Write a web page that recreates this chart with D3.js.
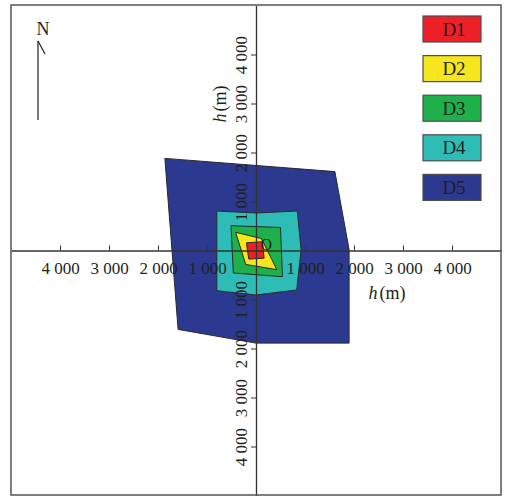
<!DOCTYPE html>
<html><head><meta charset="utf-8">
<script src="https://cdn.jsdelivr.net/npm/d3@7"></script>
<style>body{margin:0;background:#fff} text{font-family:"Liberation Serif","Times New Roman",serif;fill:#231f20}</style>
</head><body><svg id="c" width="507" height="497"></svg>
<script>
// ---- data ----
const tickValues = [-4000,-3000,-2000,-1000,1000,2000,3000,4000];
const tickLabels = ["4 000","3 000","2 000","1 000","1 000","2 000","3 000","4 000"];
const zoneNames = ["D5","D4","D3","D2","D1"];
const zoneColors = ["#2B3990","#2EBDB6","#1DB04B","#F7E51E","#EC2027"];
const zoneD5 = [[-1860,1880],[1610,1610],[1900,20],[1900,-1890],[0,-1890],[-1590,-1610]];
const zoneD4 = [[-800,806],[0,765],[843,806],[920,10],[830,-806],[0,-908],[-800,-820]];
const zoneD3 = [[-510,506],[500,470],[540,-535],[-463,-459]];
const zoneD2 = [[-415,370],[110,245],[425,-390],[-210,-285]];
const zoneD1 = [[-197,157],[132,180],[166,-156],[-147,-176]];
const legendNames = ["D1","D2","D3","D4","D5"];
const legendColors = ["#EC2027","#F7E51E","#1DB04B","#2EBDB6","#2B3990"];

// ---- drawing ----
const svg = d3.select("#c");
const x = d3.scaleLinear().domain([-5000,5000]).range([11,501]);
const y = d3.scaleLinear().domain([-5000,5000]).range([495.5,5.5]);
const zones = [zoneD5,zoneD4,zoneD3,zoneD2,zoneD1];
const line = d3.line().x(d=>x(d[0])).y(d=>y(d[1])).curve(d3.curveLinearClosed);

svg.selectAll("path.zone").data(zones).join("path")
  .attr("class","zone")
  .attr("d", line)
  .attr("fill", (d,i)=>zoneColors[i])
  .attr("stroke","#2a2a2a").attr("stroke-width",1);

// origin label
svg.append("text").attr("x", x(210)).attr("y", y(0)-0.5)
  .attr("text-anchor","middle").attr("font-size",16).text("O");

const labelOf = v => tickLabels[tickValues.indexOf(v)];

// x axis
const gx = svg.append("g").attr("transform",`translate(0,${y(0)})`)
  .call(d3.axisBottom(x).tickValues(tickValues).tickFormat(labelOf)
    .tickSizeInner(-5).tickSizeOuter(0).tickPadding(11));
gx.select(".domain").attr("stroke","#333").attr("stroke-width",1.3);
gx.selectAll(".tick line").attr("stroke","#333").attr("stroke-width",1);
gx.selectAll(".tick text").attr("font-size",17).attr("font-family","Liberation Serif, serif").attr("fill","#231f20");

// y axis
const gy = svg.append("g").attr("transform",`translate(${x(0)},0)`)
  .call(d3.axisLeft(y).tickValues(tickValues).tickFormat(labelOf)
    .tickSizeInner(5).tickSizeOuter(0).tickPadding(4));
gy.select(".domain").attr("stroke","#333").attr("stroke-width",1.3);
gy.selectAll(".tick line").attr("stroke","#333").attr("stroke-width",1);
gy.selectAll(".tick text").attr("font-size",17).attr("font-family","Liberation Serif, serif").attr("fill","#231f20")
  .attr("transform","rotate(-90)").attr("text-anchor","middle")
  .attr("x",0).attr("y",-9).attr("dy",null);

// axis titles
const tx = svg.append("text").attr("x",387).attr("y",299).attr("text-anchor","middle").attr("font-size",18);
tx.append("tspan").attr("font-style","italic").text("h");
tx.append("tspan").attr("dx",2).text("(m)");
const ty = svg.append("text").attr("transform","translate(226,104) rotate(-90)").attr("text-anchor","middle").attr("font-size",18);
ty.append("tspan").attr("font-style","italic").text("h");
ty.append("tspan").attr("dx",2).text("(m)");

// legend
const lg = svg.selectAll("g.leg").data(legendNames).join("g").attr("class","leg")
  .attr("transform",(d,i)=>`translate(423,${16+i*39.6})`);
lg.append("rect").attr("width",58).attr("height",26)
  .attr("fill",(d,i)=>legendColors[i]).attr("stroke","#4d4d4d").attr("stroke-width",1.2);
lg.append("text").attr("x",31).attr("y",13).attr("dy","0.35em")
  .attr("text-anchor","middle").attr("font-size",19).text(d=>d);

// north arrow
svg.append("line").attr("x1",38).attr("y1",41).attr("x2",38).attr("y2",120).attr("stroke","#231f20").attr("stroke-width",1.2);
svg.append("line").attr("x1",38).attr("y1",41).attr("x2",45).attr("y2",54).attr("stroke","#231f20").attr("stroke-width",1.2);
svg.append("text").attr("x",43).attr("y",35).attr("text-anchor","middle").attr("font-size",18).text("N");

// frame
svg.append("rect").attr("x",11).attr("y",5).attr("width",490).attr("height",490)
  .attr("fill","none").attr("stroke","#555").attr("stroke-width",1.5);
</script></body></html>
